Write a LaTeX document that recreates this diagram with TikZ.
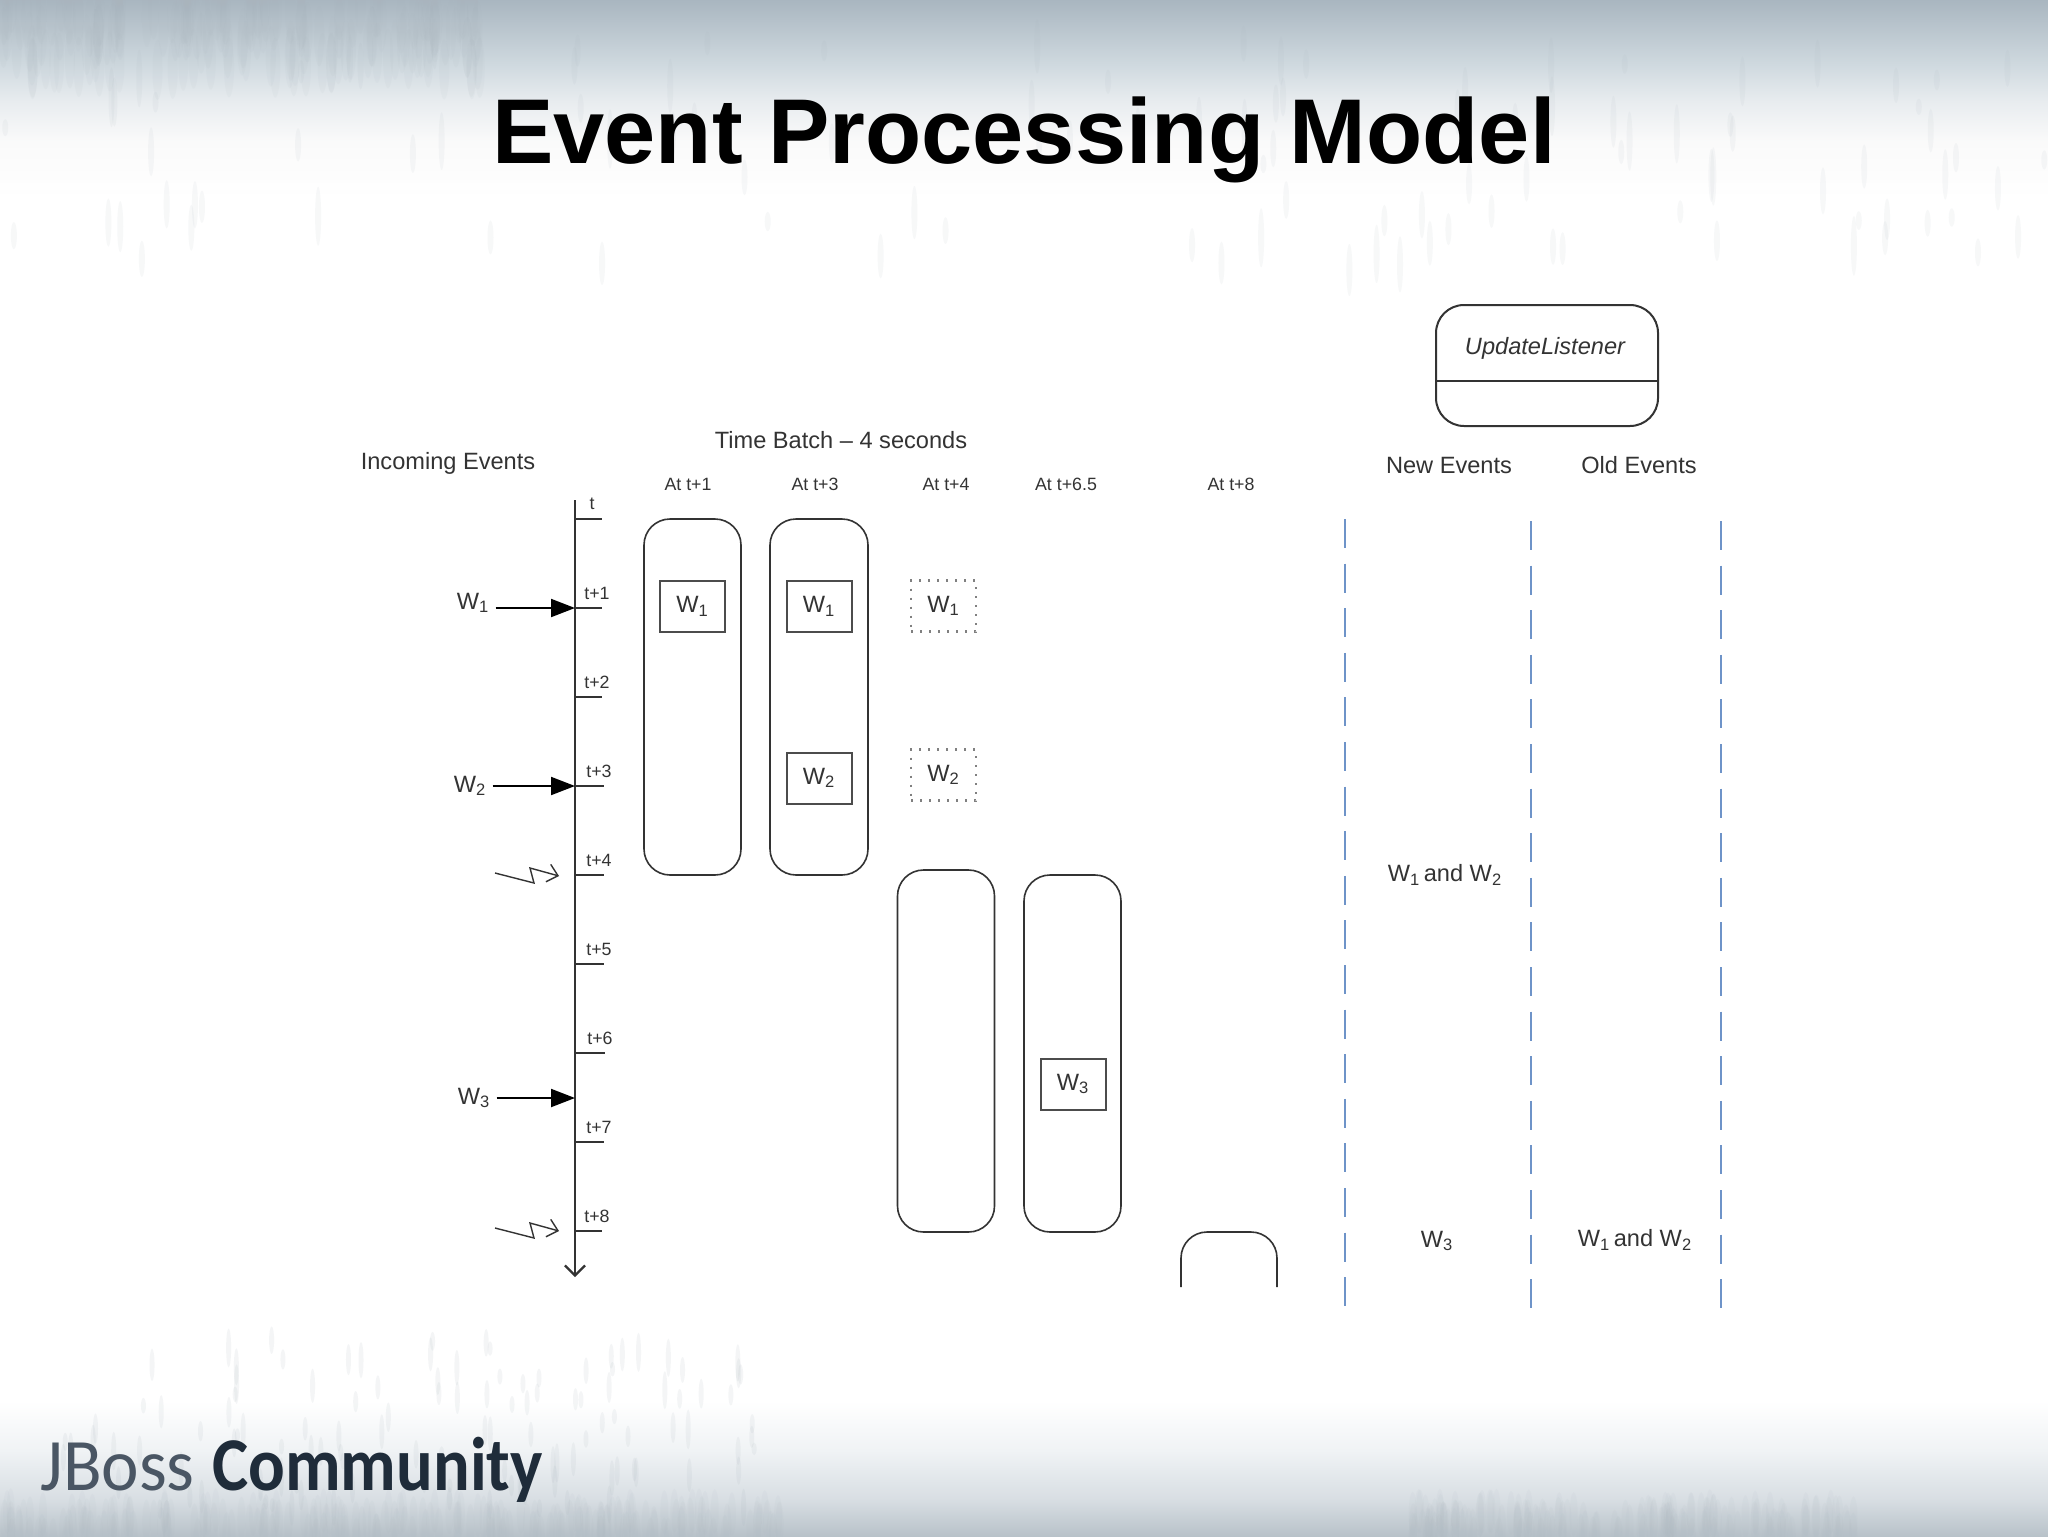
\documentclass[tikz,border=0pt]{standalone}
\usepackage{fontspec}
\setmainfont{Liberation Sans}
\newfontfamily\logofont{Carlito}
\usetikzlibrary{positioning,arrows.meta}

\definecolor{inkgrey}{HTML}{333333}
\definecolor{dashblue}{HTML}{6E93C8}
\definecolor{logodark}{HTML}{1F2C3A}
\definecolor{logolight}{HTML}{4A5664}
\definecolor{streakgrey}{HTML}{A9B4BC}
\definecolor{backa}{HTML}{B8C2C9}
\definecolor{backb}{HTML}{D8DEE3}
\definecolor{backc}{HTML}{F0F3F5}
\definecolor{backd}{HTML}{FAFAFA}
\definecolor{backe}{HTML}{E8ECEF}
\definecolor{backf}{HTML}{CFD9DF}
\definecolor{backg}{HTML}{A9B6C0}

\pgfdeclareverticalshading{slideback}{100bp}{
  color(0bp)=(backa);
  color(25bp)=(backa);
  color(26.2bp)=(backb);
  color(27.8bp)=(backc);
  color(29.4bp)=(white);
  color(68.5bp)=(white);
  color(70.4bp)=(backd);
  color(71.7bp)=(backe);
  color(72.9bp)=(backf);
  color(75bp)=(backg);
  color(100bp)=(backg)}

\tikzset{
  heading/.style={font=\fontsize{11.8}{14}\selectfont,text=inkgrey,inner sep=3pt},
  smalltext/.style={font=\fontsize{8.9}{11}\selectfont,text=inkgrey,inner sep=0pt},
  axisline/.style={draw=inkgrey,line width=1.1pt},
  eventarrow/.style={draw=black,line width=1pt,-{Triangle[length=12pt,width=9pt]}},
  boltline/.style={draw=inkgrey,line width=0.7pt,-{Straight Barb[length=5pt,width=9pt]}},
  batchbox/.style={draw=inkgrey,line width=0.8pt,rounded corners=13pt,inner sep=0pt},
  winbox/.style={draw=black!70,line width=1pt,minimum width=32.5pt,minimum height=25.5pt,
    inner sep=0pt,font=\fontsize{11.8}{14}\selectfont,text=inkgrey},
  dotbox/.style={winbox,draw=gray,line width=1.1pt,dash pattern=on 1pt off 3.5pt},
  viewline/.style={draw=dashblue,line width=1pt,dash pattern=on 14.5pt off 7.8pt},
}

\begin{document}
\begin{tikzpicture}[x=0.5pt,y=-0.5pt]
  \useasboundingbox (0,0) rectangle (2048,1536);

  % backdrop
  \shade[shading=slideback] (0,0) rectangle (2048,1536);
  \pgfmathsetseed{42}
  \foreach \k in {1,...,160}{
    \pgfmathsetmacro{\sx}{480*rnd}
    \pgfmathsetmacro{\sy}{70*rnd}
    \fill[streakgrey,opacity=0.07] (\sx,\sy) ellipse (5 and 30);
  }
  \foreach \k in {1,...,150}{
    \pgfmathsetmacro{\sx}{1410+450*rnd}
    \pgfmathsetmacro{\sy}{1510+30*rnd}
    \fill[streakgrey,opacity=0.07] (\sx,\sy) ellipse (4 and 22);
  }
  \foreach \k in {1,...,200}{
    \pgfmathsetmacro{\sx}{780*rnd}
    \pgfmathsetmacro{\sy}{1510+30*rnd}
    \fill[streakgrey,opacity=0.07] (\sx,\sy) ellipse (4 and 22);
  }
  \foreach \k in {1,...,110}{
    \pgfmathsetmacro{\sx}{2048*rnd}
    \pgfmathsetmacro{\sy}{40+230*rnd}
    \pgfmathsetmacro{\sl}{8+22*rnd}
    \fill[streakgrey,opacity=0.09] (\sx,\sy) ellipse (3 and \sl);
  }
  \foreach \k in {1,...,120}{
    \pgfmathsetmacro{\sx}{60+700*rnd}
    \pgfmathsetmacro{\sy}{1340+170*rnd}
    \pgfmathsetmacro{\sl}{6+14*rnd}
    \fill[streakgrey,opacity=0.12] (\sx,\sy) ellipse (2.5 and \sl);
  }

  % title and logo
  \node[anchor=base,inner sep=0pt,font=\fontsize{46}{50}\selectfont\bfseries] (title) at (1024,163) {Event Processing Model};
  \node[anchor=base west,inner sep=0pt,xscale=0.96,text=logolight,font=\logofont\fontsize{37}{40}\selectfont] (jboss) at (40,1490) {JBoss};
  \node[anchor=base west,inner sep=0pt,xscale=0.9,text=logodark,font=\logofont\bfseries\fontsize{38}{40}\selectfont] (community) at (212,1490) {Community};

  % time axis
  \coordinate (axistop) at (575,500);
  \coordinate (axisend) at (575,1277);
  \draw[axisline,-{Straight Barb[length=5pt,width=10pt]}] (axistop) -- (axisend);
  \foreach \n/\lab/\yy/\tx/\lx in {0/t/519/602/592,1/t+1/608/602/597,2/t+2/697/602/597,3/t+3/786/604/599,
      4/t+4/875/604/599,5/t+5/964/604/599,6/t+6/1053/605/600,7/t+7/1142/604/599,8/t+8/1231/602/597}{
    \coordinate (tick\n) at (575,\yy);
    \coordinate (tickend\n) at (\tx,\yy);
    \draw[axisline,line width=0.9pt] (tick\n) -- (tickend\n);
    \node[smalltext] (ticklab\n) at (\lx,{\yy-15}) {\lab};
  }

  % incoming events
  \node[heading] (incoming) at (448,463) {Incoming Events};
  \coordinate (hit3) at (575,1098);
  \node[heading] (win1) at (473,603) {W\textsubscript{1}};
  \node[heading] (win2) at (470,786) {W\textsubscript{2}};
  \node[heading] (win3) at (474,1098) {W\textsubscript{3}};
  \draw[eventarrow] (win1.east |- tick1) -- (tick1);
  \draw[eventarrow] (win2.east |- tick3) -- (tick3);
  \draw[eventarrow] (win3.east |- hit3) -- (hit3);
  \foreach \b/\yy in {4/873,8/1228}{
    \coordinate (bolt\b) at (495,\yy);
    \draw[boltline] (bolt\b) -- ++(39,10) -- ++(-4,-15) -- ++(29,8);
  }

  % batches
  \node[heading] (batchtitle) at (841,440) {Time Batch -- 4 seconds};
  \foreach \n/\lab/\lx in {1/At t+1/688,3/At t+3/815,4/At t+4/946,65/At t+6.5/1066,8/At t+8/1231}{
    \node[smalltext] (at\n) at (\lx,484) {\lab};
  }
  \node[batchbox,minimum width=48.5pt,minimum height=178pt] (batcha) at (692.5,697) {};
  \node[batchbox,minimum width=49pt,minimum height=178pt] (batchb) at (819,697) {};
  \node[batchbox,minimum width=48.5pt,minimum height=181pt] (batchc) at (946,1051) {};
  \node[batchbox,minimum width=48.5pt,minimum height=178.5pt] (batchd) at (1072.5,1053.5) {};
  \draw[draw=inkgrey,line width=0.8pt,rounded corners=13pt] (1181,1287) -- (1181,1232) -- (1277,1232) -- (1277,1287);

  \node[winbox] (awone) at (692.5,606.5) {W\textsubscript{1}};
  \node[winbox] (bwone) at (819,606.5) {W\textsubscript{1}};
  \node[winbox] (bwtwo) at (819,778) {W\textsubscript{2}};
  \node[dotbox,text=inkgrey] (cwone) at (943.5,606) {W\textsubscript{1}};
  \node[dotbox,text=inkgrey] (cwtwo) at (943.5,775) {W\textsubscript{2}};
  \node[winbox] (dwthree) at (1073,1084) {W\textsubscript{3}};

  % listener
  \node[draw=inkgrey,line width=1pt,rounded corners=14pt,minimum width=111pt,minimum height=60.5pt,inner sep=0pt] (listener) at (1547,365.5) {};
  \coordinate (splitline) at (1547,381);
  \draw[draw=inkgrey,line width=1pt] (listener.west |- splitline) -- (listener.east |- splitline);
  \node[heading,font=\fontsize{11.8}{14}\selectfont\itshape] (listenername) at (1545,348) {UpdateListener};
  \node[heading] (newevents) at (1449,465) {New Events};
  \node[heading] (oldevents) at (1639,465) {Old Events};

  \foreach \n/\lx/\ya/\yb in {a/1345/519/1307,b/1531/521/1309,c/1721/521/1309}{
    \coordinate (viewtop\n) at (\lx,\ya);
    \coordinate (viewend\n) at (\lx,\yb);
    \draw[viewline] (viewtop\n) -- (viewend\n);
  }
  \node[heading] (newfirst) at (1445,875) {W\textsubscript{1}\hspace{0.15em}and W\textsubscript{2}};
  \node[heading] (newsecond) at (1437,1241) {W\textsubscript{3}};
  \node[heading] (oldsecond) at (1635,1240) {W\textsubscript{1}\hspace{0.15em}and W\textsubscript{2}};
\end{tikzpicture}
\end{document}
